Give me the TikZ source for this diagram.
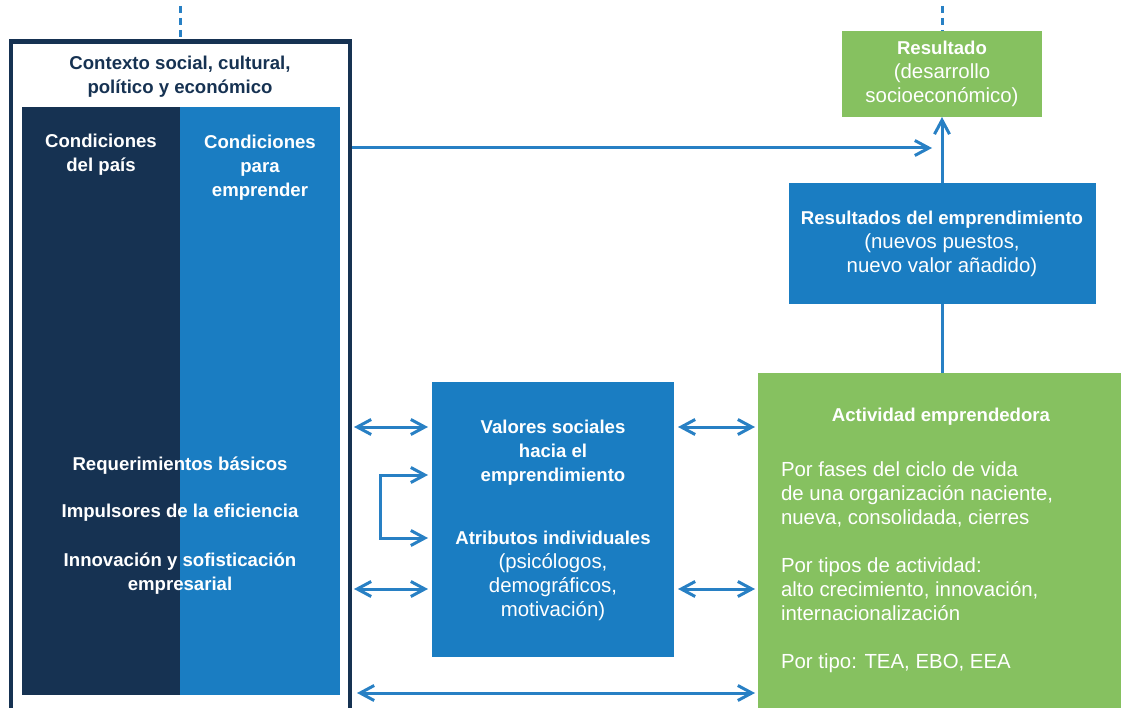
\documentclass[tikz,border=0pt]{standalone}
\usepackage{fontspec}
\setmainfont{Liberation Sans}
\usetikzlibrary{arrows.meta}
\definecolor{marino}{RGB}{22,50,82}
\definecolor{azul}{RGB}{26,125,194}
\definecolor{verde}{RGB}{134,193,96}
\definecolor{linea}{RGB}{40,128,196}
\newcommand{\negr}[1]{{\fontsize{18.6}{24}\selectfont\bfseries #1}}

\begin{document}
\begin{tikzpicture}[x=1pt,y=-1pt,
  >={Straight Barb[length=14pt,width=15pt]},
  every node/.style={inner sep=0pt, outer sep=0pt, text=white, align=center, font=\fontsize{20.4}{24}\selectfont},
  negrita/.style={font=\fontsize{18.6}{24}\selectfont\bfseries},
  flecha/.style={draw=linea, line width=3pt},
  punteada/.style={draw=linea, line width=3pt, dash pattern=on 7pt off 5pt}]
\useasboundingbox (0,0) rectangle (1121,708);

\node[draw=marino, line width=4.5pt, minimum width=339pt, minimum height=672pt] (contexto) at (180.5,377.5) {};
\node[fill=marino, minimum width=158pt, minimum height=588pt, anchor=north west] (pais) at (22,107) {};
\node[fill=azul, minimum width=160pt, minimum height=588pt, anchor=north west] (emprender) at (180,107) {};

\node[negrita, text=marino] (contextotxt) at (180,77) {Contexto social, cultural,\\político y económico};
\node[negrita] (paistxt) at (pais.north |- 0,155) {Condiciones\\del país};
\node[negrita] (emprendertxt) at (emprender.north |- 0,167.5) {Condiciones\\para\\emprender};
\node[negrita] (req) at (180,466) {Requerimientos básicos};
\node[negrita] (imp) at (180,513) {Impulsores de la eficiencia};
\node[negrita] (inn) at (180,574) {Innovación y sofisticación\\empresarial};

\node[fill=verde, minimum width=200pt, minimum height=86pt] (resultado) at (942,74)
  {\negr{Resultado}\\(desarrollo\\socioeconómico)};
\node[fill=azul, minimum width=307pt, minimum height=121pt] (resultados) at (942,243.5)
  {\negr{Resultados del emprendimiento}\\(nuevos puestos,\\nuevo valor añadido)};
\node[fill=azul, minimum width=242pt, minimum height=275pt] (medio) at (553,519.5) {};
\node[fill=verde, minimum width=370pt, minimum height=340pt, anchor=north west] (actividad) at (757.5,373) {};

\node[negrita] (valores) at (553,453) {Valores sociales\\hacia el\\emprendimiento};
\node (atributos) at (553,576) {\negr{Atributos individuales}\\(psicólogos,\\demográficos,\\motivación)};
\node[negrita] (actividadtxt) at (941,417) {Actividad emprendedora};
\node[align=left, anchor=west] (fases) at (781,567) {Por fases del ciclo de vida\\de una organización naciente,\\nueva, consolidada, cierres\\[24pt]Por tipos de actividad:\\alto crecimiento, innovación,\\internacionalización\\[24pt]Por tipo: TEA, EBO, EEA};

\draw[punteada] (contexto.north |- 0,6) -- ([yshift=2pt]contexto.north);
\draw[punteada] (resultado.north |- 0,6) -- (resultado.north);

\coordinate (llegada) at (932,148);
\draw[flecha,->,shorten <=2pt] (contexto.east |- llegada) -- (llegada);
\draw[flecha,->] (resultados.north) -- (resultado.south);
\draw[flecha] (resultados.south |- actividad.north) -- (resultados.south);

\draw[flecha,<->,shorten <=4pt,shorten >=4pt] (contexto.east |- 0,427) -- (medio.west |- 0,427);
\draw[flecha,<->,shorten <=4pt,shorten >=4pt] (contexto.east |- 0,589) -- (medio.west |- 0,589);
\draw[flecha,<->,shorten <=4pt,shorten >=2.5pt] (medio.east |- 0,427) -- (actividad.west |- 0,427);
\draw[flecha,<->,shorten <=4pt,shorten >=2.5pt] (medio.east |- 0,589) -- (actividad.west |- 0,589);
\draw[flecha,<->,shorten <=7pt,shorten >=2.5pt] (contexto.east |- 0,693) -- (actividad.west |- 0,693);

\coordinate (codo) at (380,475);
\draw[flecha,<->,shorten <=4pt,shorten >=4pt] (medio.west |- codo) -- (codo) -- (codo |- 0,538) -- (medio.west |- 0,538);
\end{tikzpicture}
\end{document}
